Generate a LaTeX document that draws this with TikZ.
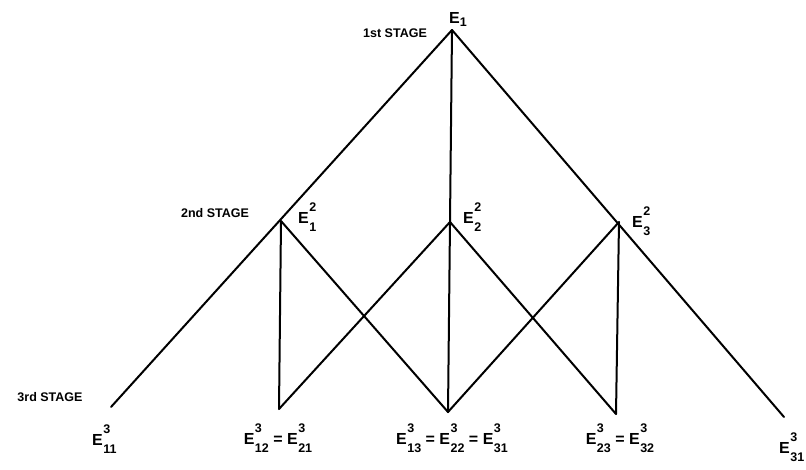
\documentclass[tikz,border=0pt]{standalone}
\usepackage{fontspec}
\setmainfont{Liberation Sans}
\newcommand{\sz}[1]{{\fontsize{12.5}{12.5}\selectfont\bfseries #1}}
\newcommand{\Ex}[2]{E\kern0.5pt\makebox[0pt][l]{\raisebox{11.5pt}{\sz{#1}}}\raisebox{-8.5pt}{\sz{#2}}}
\begin{document}
\begin{tikzpicture}[x=1pt,y=-1pt,
  edge/.style={line width=2pt,line cap=round,line join=round},
  lab/.style={font=\fontsize{16}{16}\selectfont\bfseries,inner sep=0pt},
  stage/.style={font=\fontsize{12.5}{12.5}\selectfont\bfseries,inner sep=0pt}]
\useasboundingbox (0,0) rectangle (806,469);
% vertices
\coordinate (a) at (452,30);
\coordinate (b1) at (281,221);
\coordinate (b2) at (450,222);
\coordinate (b3) at (619,222);
\coordinate (c1) at (111,407);
\coordinate (c2) at (279,409);
\coordinate (c3) at (448,412);
\coordinate (c4) at (616,414);
\coordinate (c5) at (784,417);
% edges
\draw[edge] (c1) -- (a) -- (c5);
\draw[edge] (a) -- (b2) -- (c3);
\draw[edge] (b1) -- (c2);
\draw[edge] (b3) -- (c4);
\draw[edge] (b1) -- (c3) -- (b3);
\draw[edge] (c2) -- (b2) -- (c4);
% labels
\node[lab,anchor=base west] (la) at (449,23) {E\raisebox{-3pt}{\sz{1}}};
\node[stage] (s1) at (395,33) {1st STAGE};
\node[stage] (s2) at (215,213) {2nd STAGE};
\node[stage] (s3) at (50,397) {3rd STAGE};
\node[lab,anchor=base west] (lb1) at (298,223) {\Ex{2}{1}};
\node[lab,anchor=base west] (lb2) at (463,223) {\Ex{2}{2}};
\node[lab,anchor=base west] (lb3) at (632,227) {\Ex{2}{3}};
\node[lab,anchor=base west] (lc1) at (92,445) {\Ex{3}{11}};
\node[lab,anchor=base] (lc2) at (278,444) {\Ex{3}{12} = \Ex{3}{21}};
\node[lab,anchor=base] (lc3) at (452,444) {\Ex{3}{13} = \Ex{3}{22} = \Ex{3}{31}};
\node[lab,anchor=base] (lc4) at (620,444) {\Ex{3}{23} = \Ex{3}{32}};
\node[lab,anchor=base west] (lc5) at (779,453) {\Ex{3}{31}};
\end{tikzpicture}
\end{document}
